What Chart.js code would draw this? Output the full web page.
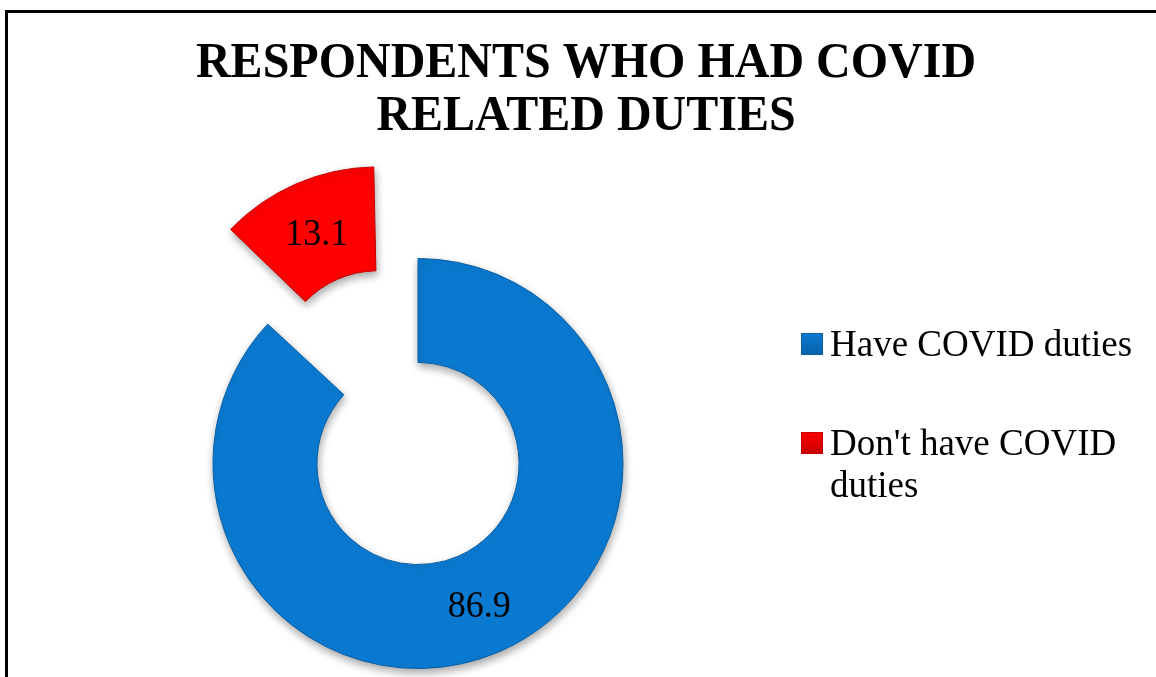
<!DOCTYPE html>
<html><head><meta charset="utf-8">
<script src="https://cdn.jsdelivr.net/npm/chart.js@4"></script>
<style>
html,body{margin:0;padding:0;background:#fff;}
#wrap{position:relative;width:1156px;height:677px;overflow:hidden;}
#frame{position:absolute;left:5px;top:10px;width:1200px;height:720px;border-top:3px solid #000;border-left:3px solid #000;box-sizing:border-box;}
canvas{position:absolute;left:0;top:0;}
</style></head><body>
<div id="wrap"><div id="frame"></div><canvas id="c" width="1156" height="677"></canvas></div>
<script>
// ---- data ----
const titleLines = ['RESPONDENTS WHO HAD COVID', 'RELATED DUTIES'];
const categories = ['Have COVID duties', "Don't have COVID duties"];
const legendLines = [['Have COVID duties'], ["Don't have COVID", 'duties']];
const values = [86.9, 13.1];
const valueLabels = ['86.9', '13.1'];
const colors = ['#0A7AD1', '#FF0000'];
const borderColors = ['#0860a8', '#c40000'];
const explode = [0, 400]; // Chart.js v4 translates arcs by offset/4

const SERIF = "'Liberation Serif', 'Times New Roman', serif";

// keep exploded slice radii unchanged (v4 enlarges small offset slices)
const radiusFix = {
  id: 'radiusFix',
  afterDatasetUpdate(chart, args) {
    const meta = chart.getDatasetMeta(args.index);
    meta.data.forEach(el => {
      const off = (el.options.offset || 0) / 4;
      const fix = 1 - Math.sin(Math.min(Math.PI, el.circumference || 0));
      el._rOff = off * fix;
      el.outerRadius -= el._rOff;
      el.innerRadius -= el._rOff;
    });
  }
};

const shadow = {
  id: 'shadow',
  beforeDatasetsDraw(chart) {
    const ctx = chart.ctx;
    ctx.save();
    ctx.shadowColor = 'rgba(0,0,0,0.35)';
    ctx.shadowBlur = 8;
    ctx.shadowOffsetX = 1;
    ctx.shadowOffsetY = 4;
  },
  afterDatasetsDraw(chart) { chart.ctx.restore(); }
};

const decor = {
  id: 'decor',
  afterDraw(chart) {
    const ctx = chart.ctx;
    ctx.save();
    // title (slightly tall, as in the reference)
    ctx.fillStyle = '#000';
    ctx.textAlign = 'center';
    ctx.textBaseline = 'alphabetic';
    ctx.font = 'bold 48px ' + SERIF;
    ctx.save();
    ctx.scale(1, 1.06);
    ctx.fillText(titleLines[0], 586, 77 / 1.06);
    ctx.fillText(titleLines[1], 586, 130 / 1.06);
    ctx.restore();
    // value labels
    const meta = chart.getDatasetMeta(0);
    ctx.font = '36px ' + SERIF;
    meta.data.forEach((el, i) => {
      const half = (el.startAngle + el.endAngle) / 2;
      const rOff = el._rOff || 0;
      const r = (el.innerRadius + el.outerRadius) / 2 + rOff;
      const t = (el.options.offset || 0) / 4;
      const x = el.x + Math.cos(half) * (r + t);
      const y = el.y + Math.sin(half) * (r + t);
      ctx.save();
      ctx.translate(x, y + 13);
      ctx.scale(1, 1.08);
      ctx.fillText(valueLabels[i], 0, 0);
      ctx.restore();
    });
    // legend
    ctx.textAlign = 'left';
    ctx.font = '37px ' + SERIF;
    const tops = [333, 432];
    legendLines.forEach((lines, i) => {
      const y0 = tops[i];
      const g = ctx.createLinearGradient(801, y0, 801, y0 + 22);
      g.addColorStop(0, colors[i]);
      g.addColorStop(1, borderColors[i]);
      ctx.fillStyle = g;
      ctx.fillRect(801, y0, 22, 22);
      ctx.strokeStyle = borderColors[i];
      ctx.lineWidth = 1;
      ctx.strokeRect(801.5, y0 + 0.5, 21, 21);
      ctx.fillStyle = '#000';
      lines.forEach((ln, j) => ctx.fillText(ln, 830, y0 + 23 + j * 42));
    });
    ctx.restore();
  }
};

new Chart(document.getElementById('c'), {
  type: 'doughnut',
  data: {
    labels: categories,
    datasets: [{
      data: values,
      backgroundColor: colors,
      borderColor: borderColors,
      borderWidth: 1,
      offset: explode,
      hoverOffset: 0,
      clip: false
    }]
  },
  options: {
    responsive: false,
    devicePixelRatio: 1,
    animation: false,
    events: [],
    radius: 205,
    cutout: '49.3%',
    layout: { padding: { left: 168, right: 488, top: 250, bottom: 0 } },
    plugins: { legend: { display: false }, title: { display: false }, tooltip: { enabled: false } }
  },
  plugins: [radiusFix, shadow, decor]
});
</script>
</body></html>
